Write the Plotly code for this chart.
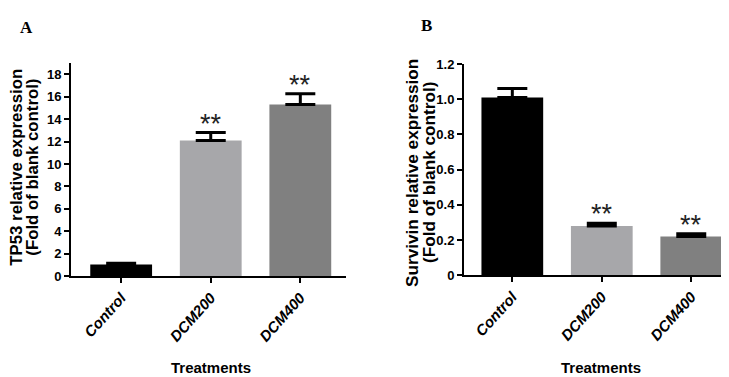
import plotly.graph_objects as go

categories = ["Control", "DCM200", "DCM400"]
tp53_values = [1.05, 12.1, 15.3]
tp53_errors = [0.1, 0.7, 0.95]
survivin_values = [1.01, 0.28, 0.22]
survivin_errors = [0.05, 0.015, 0.015]
bar_colors = ["#000000", "#a7a7aa", "#808080"]
sig_marks = ["", "**", "**"]
tp53_ticks = [0, 2, 4, 6, 8, 10, 12, 14, 16, 18]
surv_ticks = [0, 0.2, 0.4, 0.6, 0.8, 1.0, 1.2]
surv_ticktext = ["0", "0.2", "0.4", "0.6", "0.8", "1.0", "1.2"]

W, H = 729, 377
fig = go.Figure()

err_style = dict(type="data", symmetric=False, color="black", thickness=3, width=15)

fig.add_trace(go.Bar(
    x=categories, y=tp53_values, marker=dict(color=bar_colors, line=dict(width=0)),
    width=0.69, xaxis="x", yaxis="y",
    error_y=dict(array=tp53_errors, arrayminus=[0, 0, 0], **err_style),
    showlegend=False))
fig.add_trace(go.Bar(
    x=categories, y=survivin_values, marker=dict(color=bar_colors, line=dict(width=0)),
    width=0.69, xaxis="x2", yaxis="y2",
    error_y=dict(array=survivin_errors, arrayminus=[0, 0, 0], **err_style),
    showlegend=False))

annotations = []
for xa, ya, vals, errs in [("x", "y", tp53_values, tp53_errors), ("x2", "y2", survivin_values, survivin_errors)]:
    for c, v, e, s in zip(categories, vals, errs, sig_marks):
        if s:
            annotations.append(dict(x=c, y=v + e, xref=xa, yref=ya, text=s, showarrow=False,
                                    xanchor="center", yanchor="bottom", yshift=-8,
                                    font=dict(family="Arial, Liberation Sans", size=27, color="#222")))

def ytitle(x, y, text, size):
    return dict(x=x / W, y=(H - y) / H, xref="paper", yref="paper", showarrow=False, textangle=-90,
                xanchor="center", yanchor="middle", text="<b>" + text + "</b>",
                font=dict(family="Arial, Liberation Sans", size=size, color="black"))

treat_font = dict(family="Arial, Liberation Sans", size=15, color="black")
letter_font = dict(family="Times New Roman, Liberation Serif", size=17, color="black")
annotations += [
    ytitle(9, 159, "TP53 relative expression", 16.8),
    ytitle(25, 159, "(Fold of blank control)", 16.8),
    ytitle(404, 164.5, "Survivin relative expression", 17.2),
    ytitle(421, 164.5, "(Fold of blank control)", 17.2),
    dict(x=203 / W, y=(H - 367) / H, xref="paper", yref="paper", showarrow=False,
         xanchor="center", yanchor="middle", text="<b>Treatments</b>", font=treat_font),
    dict(x=593 / W, y=(H - 367) / H, xref="paper", yref="paper", showarrow=False,
         xanchor="center", yanchor="middle", text="<b>Treatments</b>", font=treat_font),
    dict(x=18 / W, y=(H - 13) / H, xref="paper", yref="paper", showarrow=False,
         xanchor="center", yanchor="middle", text="<b>A</b>", font=letter_font),
    dict(x=418 / W, y=(H - 11) / H, xref="paper", yref="paper", showarrow=False,
         xanchor="center", yanchor="middle", text="<b>B</b>", font=letter_font),
]

tick_font = dict(family="Arial, Liberation Sans", size=13, color="black", weight="bold")
xtick_font = dict(family="Arial, Liberation Sans", size=15, color="black", weight="bold", style="italic")
axis_common = dict(showline=True, linecolor="black", linewidth=2, ticks="outside", ticklen=5,
                   tickwidth=2, tickcolor="black", showgrid=False, zeroline=False)

fig.update_layout(
    width=W, height=H, margin=dict(l=0, r=0, t=0, b=0),
    paper_bgcolor="white", plot_bgcolor="white",
    bargap=0.3,
    xaxis=dict(domain=[63 / W, 338 / W], range=[-0.56, 2.51], tickangle=-48, tickfont=xtick_font,
               anchor="y", **axis_common),
    yaxis=dict(domain=[105 / H, 327 / H], range=[0, 19], tickvals=tp53_ticks, tickfont=tick_font,
               anchor="x", **axis_common),
    xaxis2=dict(domain=[456 / W, 728 / W], range=[-0.54, 2.5], tickangle=-48, tickfont=xtick_font,
                anchor="y2", **axis_common),
    yaxis2=dict(domain=[106 / H, 326 / H], range=[0, 1.2], tickvals=surv_ticks, ticktext=surv_ticktext,
                tickfont=tick_font, anchor="x2", **axis_common),
    annotations=annotations,
)

fig.write_html("out.html")
